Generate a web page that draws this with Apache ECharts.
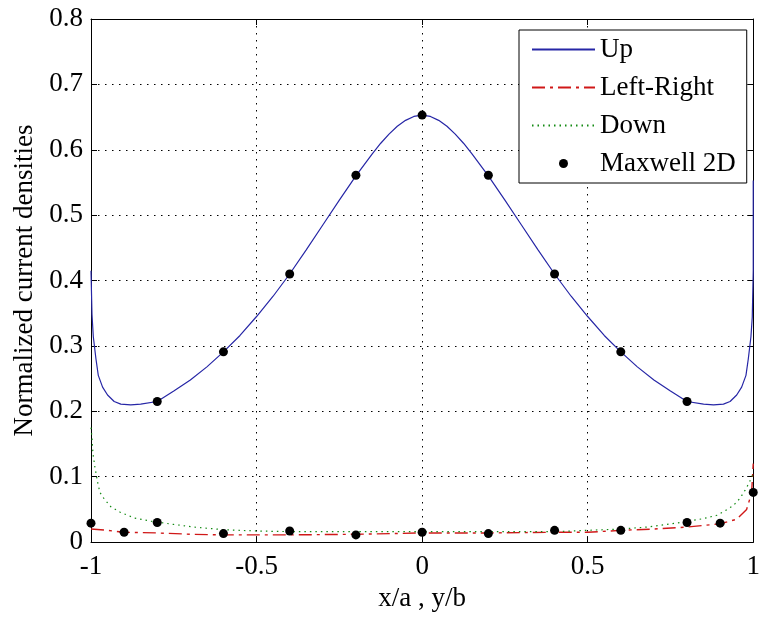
<!DOCTYPE html>
<html>
<head>
<meta charset="utf-8">
<script src="https://cdn.jsdelivr.net/npm/echarts@6/dist/echarts.min.js"></script>
<style>
  html, body { margin: 0; padding: 0; background: #fff; }
  #chart { width: 763px; height: 617px; }
</style>
</head>
<body>
<div id="chart"></div>
<script>
// Normalized current density along the conductor edges
const upX = [-1, -0.997, -0.993, -0.985, -0.978, -0.965, -0.95, -0.93, -0.91, -0.88, -0.85, -0.8, -0.75, -0.7, -0.65, -0.6, -0.55, -0.5, -0.45, -0.4, -0.35, -0.3, -0.25, -0.2, -0.15, -0.125, -0.1, -0.075, -0.05, -0.025, 0,
  0.025, 0.05, 0.075, 0.1, 0.125, 0.15, 0.2, 0.25, 0.3, 0.35, 0.4, 0.45, 0.5, 0.55, 0.6, 0.65, 0.7, 0.75, 0.8, 0.85, 0.88, 0.91, 0.93, 0.95, 0.965, 0.978, 0.985, 0.993, 0.997, 1, 1];
const upY = [0.415, 0.348, 0.314, 0.28, 0.255, 0.237, 0.225, 0.215, 0.211, 0.21, 0.211, 0.215, 0.231, 0.248, 0.268, 0.291, 0.316, 0.345, 0.376, 0.41, 0.447, 0.485, 0.523, 0.56, 0.594, 0.61, 0.624, 0.636, 0.645, 0.651, 0.653,
  0.651, 0.645, 0.636, 0.624, 0.61, 0.594, 0.56, 0.523, 0.485, 0.447, 0.41, 0.376, 0.345, 0.316, 0.291, 0.268, 0.248, 0.231, 0.215, 0.211, 0.21, 0.211, 0.215, 0.225, 0.237, 0.255, 0.28, 0.314, 0.344, 0.415, 0.553];

const lrX = [-1, -0.95, -0.9, -0.8, -0.7, -0.6, -0.4, -0.2, 0, 0.2, 0.4, 0.5, 0.6, 0.7, 0.8, 0.9, 0.95, 0.98, 0.995, 1];
const lrY = [0.02, 0.018, 0.015, 0.014, 0.012, 0.011, 0.011, 0.012, 0.014, 0.014, 0.015, 0.015, 0.018, 0.02, 0.023, 0.028, 0.035, 0.05, 0.075, 0.12];

const downX = [-1, -0.997, -0.994, -0.988, -0.979, -0.973, -0.96, -0.94, -0.913, -0.87, -0.82, -0.75, -0.69, -0.6, -0.5, -0.4, -0.2, 0, 0.2, 0.4, 0.5, 0.6, 0.68, 0.78, 0.85, 0.89, 0.915, 0.94, 0.96, 0.975, 0.988, 1];
const downY = [0.175, 0.159, 0.135, 0.114, 0.089, 0.076, 0.066, 0.054, 0.046, 0.037, 0.032, 0.027, 0.023, 0.019, 0.017, 0.016, 0.016, 0.016, 0.016, 0.016, 0.018, 0.02, 0.023, 0.03, 0.036, 0.041, 0.048, 0.056, 0.067, 0.079, 0.091, 0.105];

// Maxwell 2D reference points
const femX = [-0.8, -0.6, -0.4, -0.2, 0, 0.2, 0.4, 0.6, 0.8,
  -1, -0.9, -0.8, -0.6, -0.4, -0.2, 0, 0.2, 0.4, 0.6, 0.8, 0.9, 1];
const femY = [0.215, 0.291, 0.41, 0.561, 0.653, 0.561, 0.41, 0.291, 0.215,
  0.029, 0.015, 0.03, 0.013, 0.017, 0.011, 0.015, 0.013, 0.018, 0.018, 0.03, 0.029, 0.076];

const xTicks = { min: -1, max: 1, interval: 0.5 };
const yTicks = { min: 0, max: 0.8, interval: 0.1 };

const pairs = (xs, ys) => xs.map((x, i) => [x, ys[i]]);

const FONT = "'Liberation Serif', 'Times New Roman', serif";
const FS = 27;
const gridDots = { show: true, lineStyle: { color: '#000', width: 1, type: [1.5, 5.5] } };
const boxLine = { show: true, onZero: false, lineStyle: { color: '#000', width: 1 } };
const tickIn = { show: true, inside: true, length: 6, lineStyle: { color: '#000' } };
// line entries in the legend show only the line sample, no marker
const lineOnly = { opacity: 0 };

const chart = echarts.init(document.getElementById('chart'));
chart.setOption({
  animation: false,
  backgroundColor: '#fff',
  textStyle: { fontFamily: FONT },
  grid: { left: 91, right: 3, top: 19, bottom: 70, containLabel: false },
  xAxis: [
    {
      type: 'value', ...xTicks, position: 'bottom',
      name: 'x/a , y/b', nameLocation: 'middle', nameGap: 34,
      nameTextStyle: { fontFamily: FONT, fontSize: FS, color: '#000' },
      axisLine: boxLine, axisTick: tickIn,
      axisLabel: { fontFamily: FONT, fontSize: FS, color: '#000', margin: 11 },
      splitLine: gridDots
    },
    {
      type: 'value', ...xTicks, position: 'top',
      axisLine: boxLine, axisTick: tickIn,
      axisLabel: { show: false }, splitLine: { show: false }
    }
  ],
  yAxis: [
    {
      type: 'value', ...yTicks, position: 'left',
      name: 'Normalized current densities', nameLocation: 'middle', nameGap: 43, nameRotate: 90,
      nameTextStyle: { fontFamily: FONT, fontSize: FS, color: '#000' },
      axisLine: boxLine, axisTick: tickIn,
      axisLabel: { fontFamily: FONT, fontSize: FS, color: '#000', margin: 8 },
      splitLine: gridDots
    },
    {
      type: 'value', ...yTicks, position: 'right',
      axisLine: boxLine, axisTick: tickIn,
      axisLabel: { show: false }, splitLine: { show: false }
    }
  ],
  legend: {
    orient: 'vertical',
    left: 519, top: 30,
    padding: [6, 11, 6, 12],
    itemWidth: 63, itemHeight: 9, itemGap: 11,
    backgroundColor: '#fff', borderColor: '#000', borderWidth: 1, borderRadius: 0,
    textStyle: { fontFamily: FONT, fontSize: FS, color: '#000', lineHeight: 27 },
    data: [
      { name: 'Up', itemStyle: lineOnly },
      { name: 'Left-Right', itemStyle: lineOnly },
      { name: 'Down', itemStyle: lineOnly },
      { name: 'Maxwell 2D', icon: 'circle' }
    ]
  },
  series: [
    {
      name: 'Up', type: 'line', symbol: 'none', z: 3,
      data: pairs(upX, upY),
      lineStyle: { color: '#2626a6', width: 1.2 },
      itemStyle: { color: '#2626a6' }
    },
    {
      name: 'Left-Right', type: 'line', symbol: 'none', z: 3,
      data: pairs(lrX, lrY),
      lineStyle: { color: '#d01818', width: 1.4, type: [13, 5, 3, 5] },
      itemStyle: { color: '#d01818' }
    },
    {
      name: 'Down', type: 'line', symbol: 'none', z: 3,
      data: pairs(downX, downY),
      lineStyle: { color: '#138a13', width: 1.2, type: [1.5, 4] },
      itemStyle: { color: '#138a13' }
    },
    {
      name: 'Maxwell 2D', type: 'scatter', symbol: 'circle', symbolSize: 9, z: 4,
      data: pairs(femX, femY),
      itemStyle: { color: '#000', opacity: 1 }
    }
  ]
});
</script>
</body>
</html>
